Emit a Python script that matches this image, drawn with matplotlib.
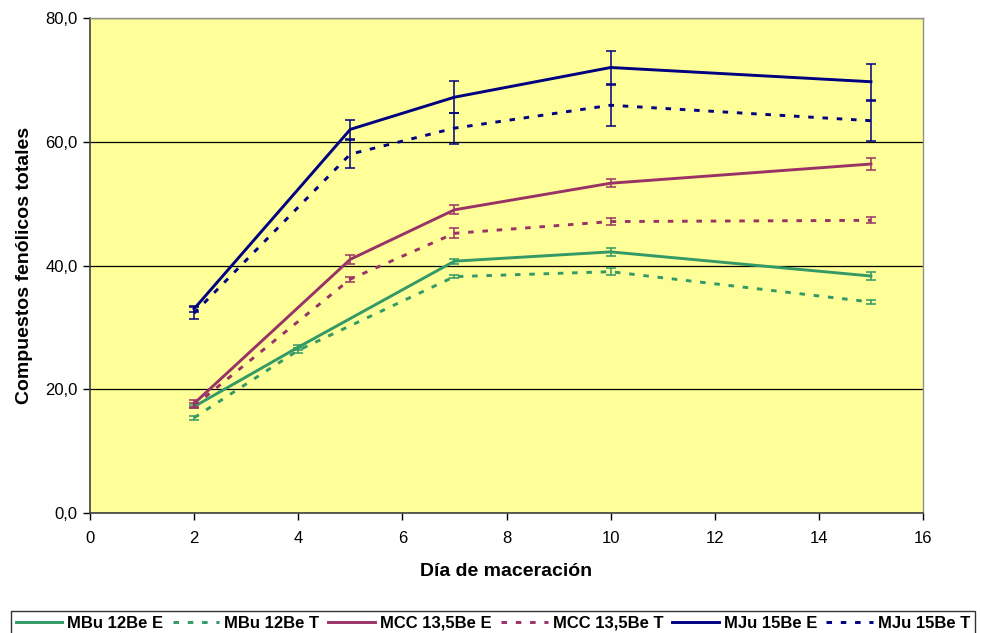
import matplotlib
matplotlib.use("Agg")
import matplotlib.pyplot as plt
from matplotlib.ticker import FuncFormatter, MultipleLocator

plt.rcParams['font.family'] = ['Liberation Sans', 'DejaVu Sans']

# Maceration days and total phenolic compounds per wine series
days_mbu = [2, 4, 7, 10, 15]
days = [2, 5, 7, 10, 15]

mbu_e = [17.2, 26.8, 40.7, 42.2, 38.3]
mbu_e_err = [0.3, 0.4, 0.4, 0.6, 0.6]
mbu_t = [15.4, 26.3, 38.2, 39.0, 34.1]
mbu_t_err = [0.3, 0.4, 0.2, 0.6, 0.3]

mcc_e = [17.7, 41.0, 49.0, 53.3, 56.4]
mcc_e_err = [0.5, 0.7, 0.7, 0.6, 0.9]
mcc_t = [17.3, 37.8, 45.2, 47.1, 47.3]
mcc_t_err = [0.4, 0.4, 0.8, 0.55, 0.5]

mju_e = [33.0, 62.0, 67.2, 72.0, 69.7]
mju_e_err = [0.5, 1.5, 2.6, 2.7, 2.9]
mju_t = [32.3, 58.0, 62.2, 65.9, 63.4]
mju_t_err = [1.0, 2.3, 2.5, 3.3, 3.2]

labels = ["MBu 12Be E", "MBu 12Be T", "MCC 13,5Be E",
          "MCC 13,5Be T", "MJu 15Be E", "MJu 15Be T"]

GREEN = "#339966"
PURPLE = "#993366"
NAVY = "#000080"

series = [
    (days_mbu, mbu_e, mbu_e_err, GREEN, "solid"),
    (days_mbu, mbu_t, mbu_t_err, GREEN, "dashed"),
    (days, mcc_e, mcc_e_err, PURPLE, "solid"),
    (days, mcc_t, mcc_t_err, PURPLE, "dashed"),
    (days, mju_e, mju_e_err, NAVY, "solid"),
    (days, mju_t, mju_t_err, NAVY, "dashed"),
]

fig = plt.figure(figsize=(9.81, 6.33), dpi=100)
ax = fig.add_axes([90 / 981, (633 - 513) / 633, 833 / 981, 495 / 633])
ax.set_facecolor("#FFFF99")

handles = []
for (x, y, err, color, style), lab in zip(series, labels):
    ls = "-" if style == "solid" else (0, (1.9, 3.0))
    line, = ax.plot(x, y, color=color, lw=2.1, linestyle=ls, label=lab,
                    zorder=3)
    ax.errorbar(x, y, yerr=err, fmt="none", ecolor=color, elinewidth=1.1,
                capsize=3.5, capthick=1.1, zorder=4)
    handles.append(line)

ax.set_xlim(0, 16)
ax.set_ylim(0, 80)
ax.xaxis.set_major_locator(MultipleLocator(2))
ax.yaxis.set_major_locator(MultipleLocator(20))
ax.yaxis.set_major_formatter(FuncFormatter(lambda v, p: f"{v:.1f}".replace(".", ",")))

ax.yaxis.grid(True, color="black", lw=0.9)
ax.set_axisbelow(True)

for side in ("top", "right"):
    ax.spines[side].set_color("#909090")
    ax.spines[side].set_linewidth(1.0)
for side in ("left", "bottom"):
    ax.spines[side].set_color("#404040")
    ax.spines[side].set_linewidth(1.2)

ax.tick_params(axis="both", direction="out", length=5, width=1,
               color="black", labelsize=12, labelcolor="black")
ax.tick_params(axis="x", pad=8)
ax.tick_params(axis="y", pad=4)

ax.set_xlabel("Día de maceración", fontsize=14, fontweight="bold",
              labelpad=12)
ax.set_ylabel("Compuestos fenólicos totales", fontsize=14,
              fontweight="bold", labelpad=9)

leg = fig.legend(handles=handles, labels=labels, loc="upper center",
                 bbox_to_anchor=(493 / 981, 1 - 611 / 633), ncol=6,
                 frameon=True, fancybox=False, edgecolor="black",
                 handlelength=2.8, handletextpad=0.3, columnspacing=0.55,
                 borderpad=0.3, borderaxespad=0.0,
                 prop={"weight": "bold", "size": 12})
leg.get_frame().set_linewidth(1.0)

fig.savefig("out.png", dpi=100, facecolor="white")
